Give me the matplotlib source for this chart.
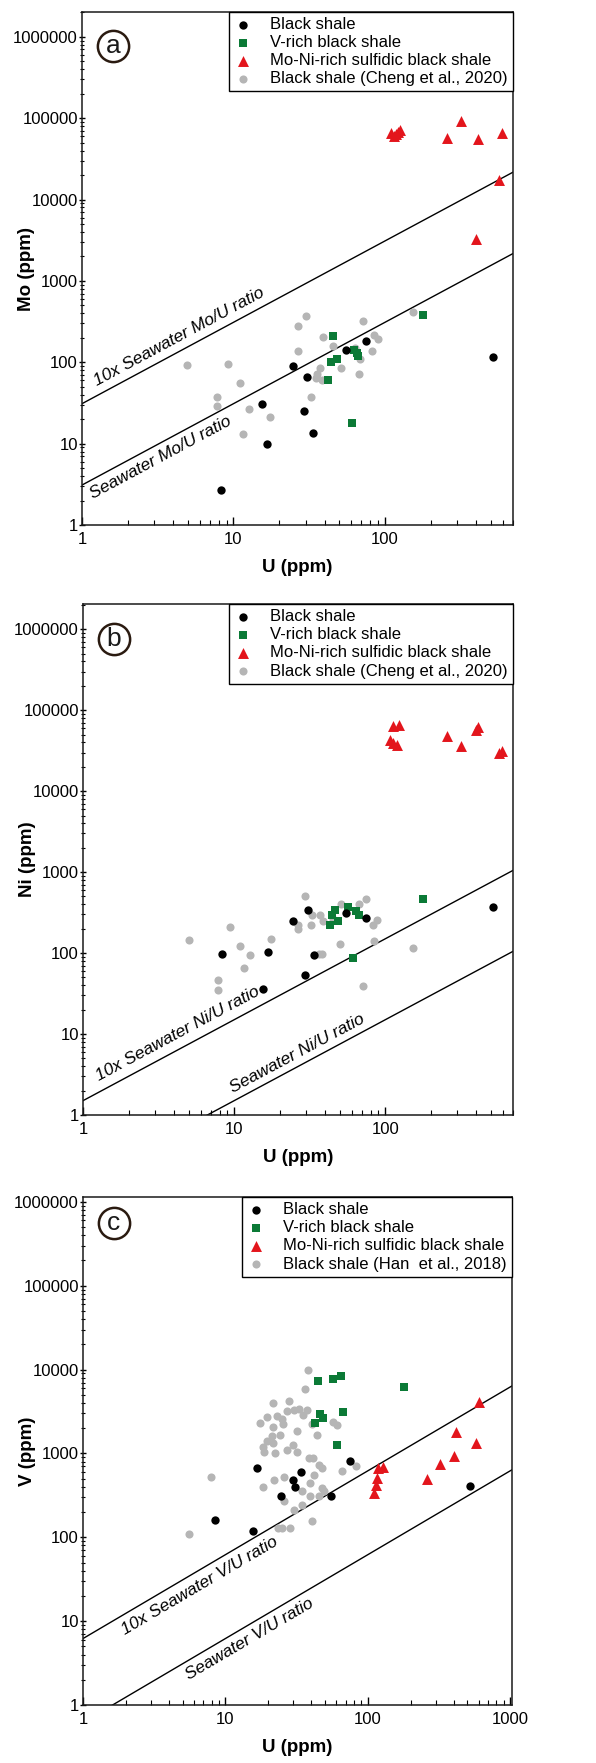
import numpy as np
import matplotlib
matplotlib.use('Agg')
from matplotlib import pyplot as plt
from matplotlib.ticker import FixedLocator, LogLocator, NullFormatter

plt.rcParams['font.family'] = ['Liberation Sans', 'DejaVu Sans']

# ---- panel a : Mo vs U ----
a_black_u = [8.25, 15.4, 16.6, 24.6, 29.2, 30.6, 33.5, 55.0, 74.6, 518]
a_black_mo = [2.67, 30.7, 9.95, 91, 24.9, 66, 13.5, 143, 181, 116]
a_green_u = [45.6, 44.0, 48.0, 42.3, 60.3, 62.5, 65.7, 66.7, 177]
a_green_mo = [213, 100, 110, 61, 17.9, 141, 130, 119, 379]
a_red_u = [110, 115, 119, 126, 122, 255, 318, 409, 594, 566, 397]
a_red_mo = [66000, 60000, 64000, 72000, 68000, 56600, 92500, 55600, 65000, 17500, 3320]
a_gray_u = [4.95, 9.2, 11.0, 7.8, 7.8, 12.7, 17.4, 11.6, 30.0, 26.6, 26.6, 32.7, 38.9, 45.1,
            37.4, 35.8, 35.0, 38.2, 51.3, 71.3, 85.1, 90, 82.2, 67, 68.3, 63.8, 152]
a_gray_mo = [92, 95, 55, 37, 29, 27, 21, 13, 369, 278, 139, 37, 203, 160,
             85, 72, 64, 60, 84, 326, 219, 196, 139, 72, 110, 150, 417]

# ---- panel b : Ni vs U ----
b_black_u = [8.31, 15.4, 16.7, 24.5, 29.3, 30.6, 33.6, 55.0, 74.5, 515]
b_black_ni = [97, 36.4, 104, 252, 53.3, 342, 94.4, 311, 272, 369]
b_green_u = [42.8, 44.4, 46.2, 48.4, 56.6, 64.3, 66.6, 60.8, 177]
b_green_ni = [219, 299, 336, 247, 369, 329, 297, 85.9, 460]
b_red_u = [108, 113, 124, 113, 119, 256, 318, 400, 410, 569, 593]
b_red_ni = [43100, 63000, 64800, 39300, 37500, 48400, 36400, 57000, 62000, 29600, 30900]
b_gray_u = [5.0, 9.34, 11.0, 11.7, 12.7, 17.5, 7.78, 7.78, 29.6, 26.5, 26.3, 32.7, 32.3, 37.1,
            38.7, 38.1, 36.3, 50.4, 50.9, 66.6, 74.9, 82.8, 88.1, 84.6, 71.1, 152, 45]
b_gray_ni = [145, 208, 123, 64.5, 94, 149, 46, 35, 506, 221, 200, 297, 225, 291,
             252, 97, 97, 129, 406, 406, 460, 223, 259, 142, 39, 117, 260]

# ---- panel c : V vs U ----
c_black_u = [8.4, 15.6, 16.7, 24.7, 29.7, 30.8, 33.9, 55.4, 75.4, 524]
c_black_v = [160, 118, 665, 313, 484, 403, 596, 307, 820, 410]
c_green_u = [44.9, 57.3, 64.5, 179.6, 66.6, 46.2, 48.3, 42.6, 61]
c_green_v = [7270, 7620, 8340, 6220, 3080, 2920, 2640, 2275, 1256]
c_red_u = [118, 128, 116, 114, 111, 260, 323, 405, 416, 575, 604]
c_red_v = [677, 697, 506, 422, 336, 497, 741, 940, 1810, 1315, 4120]
c_gray_u = [38.2, 36.4, 28.0, 21.5, 30.5, 33.0, 37.2, 34.9, 26.9, 19.5, 22.9, 17.5, 24.9, 21.7,
            25.5, 31.8, 24.2, 21.1, 19.5, 29.6, 21.7, 57.3, 61, 43.7, 40.3, 18.5,
            18.6, 22.4, 27, 32,
            5.52, 7.92, 18.4, 22.0, 25.6, 23.3, 24.9, 28.6, 25.9, 30.1, 34.7, 38.4, 41.5,
            45.1, 47.6, 41.6, 39.4, 34.5, 47.6, 49.1, 45.1, 39.4, 40.5, 65.8, 83]
c_gray_v = [10000, 5800, 4230, 3950, 3340, 3400, 3300, 2840, 3210, 2730, 2780, 2310, 2560, 2070,
            2250, 1830, 1670, 1620, 1390, 1270, 1320, 2400, 2190, 1670, 2250, 1200,
            1040, 1000, 1100, 1050,
            108, 530, 393, 484, 530, 129, 129, 129, 273, 213, 245, 873, 873,
            728, 665, 554, 442, 358, 385, 352, 307, 307, 155, 624, 715]

# seawater element/U ratios
mo_u_ratio = 3.1
ni_u_ratio = 0.15
v_u_ratio = 0.62

BLACK = '#000000'
GREEN = '#0b7a36'
RED = '#e3151c'
GRAY = '#b5b5b5'
EDGE = '#2a1a10'

fig = plt.figure(figsize=(5.96, 17.63), dpi=100)


def draw_panel(rect, letter, letter_y, el, ratio, xmax, ymax, xticks,
               black, green, red, gray, ref_label, txt10, txt1):
    ax = fig.add_axes(rect)
    ax.set_xscale('log')
    ax.set_yscale('log')
    ax.set_xlim(1, xmax)
    ax.set_ylim(1, ymax)

    g = ax.scatter(gray[0], gray[1], s=34, c=GRAY, linewidths=0, zorder=2)
    gr = ax.scatter(green[0], green[1], s=29, marker='s', c=GREEN, linewidths=0, zorder=3)
    b = ax.scatter(black[0], black[1], s=36, c=BLACK, linewidths=0, zorder=4)
    r = ax.scatter(red[0], red[1], s=62, marker='^', c=RED, linewidths=0, zorder=5)

    xs = np.array([1, xmax])
    ax.plot(xs, ratio * xs, color='k', lw=1.0, zorder=1)
    ax.plot(xs, 10 * ratio * xs, color='k', lw=1.0, zorder=1)

    p1 = ax.transData.transform((1, ratio))
    p2 = ax.transData.transform((100, ratio * 100))
    ang = np.degrees(np.arctan2(p2[1] - p1[1], p2[0] - p1[0]))
    ax.text(txt10[0], txt10[1], '10x Seawater %s/U ratio' % el, rotation=ang,
            rotation_mode='anchor', ha='left', va='baseline', fontsize=12.5, style='italic')
    ax.text(txt1[0], txt1[1], 'Seawater %s/U ratio' % el, rotation=ang,
            rotation_mode='anchor', ha='left', va='baseline', fontsize=12.5, style='italic')

    leg = ax.legend([b, gr, r, g], ['Black shale', 'V-rich black shale',
                                    'Mo-Ni-rich sulfidic black shale', ref_label],
                    loc='upper right', borderaxespad=0, fontsize=12, frameon=True,
                    fancybox=False, edgecolor='k', framealpha=1, scatterpoints=1,
                    handlelength=1.08, handletextpad=1.1, borderpad=0.3, labelspacing=0.19)
    leg.get_frame().set_linewidth(1.0)

    ax.plot(0.072, letter_y, 'o', ms=22.5, mfc='white', mec=EDGE, mew=1.8,
            transform=ax.transAxes, clip_on=False, zorder=6)
    ax.text(0.072, letter_y, letter, transform=ax.transAxes, ha='center', va='center',
            fontsize=19, color='#1a1a1a', zorder=7)

    yt = [1, 10, 100, 1000, 10000, 100000, 1000000]
    ax.yaxis.set_major_locator(FixedLocator(yt))
    ax.set_yticklabels([str(v) for v in yt])
    ax.xaxis.set_major_locator(FixedLocator(xticks))
    ax.set_xticklabels([str(v) for v in xticks])
    ax.xaxis.set_minor_locator(LogLocator(base=10, subs=np.arange(2, 10)))
    ax.yaxis.set_minor_locator(LogLocator(base=10, subs=np.arange(2, 10), numticks=20))
    ax.xaxis.set_minor_formatter(NullFormatter())
    ax.yaxis.set_minor_formatter(NullFormatter())
    ax.tick_params(axis='x', which='major', direction='in', length=6, width=1, pad=5, labelsize=12)
    ax.tick_params(axis='x', which='minor', direction='in', length=3.5, width=0.8)
    ax.tick_params(axis='y', which='major', direction='inout', length=5, width=1, pad=0.5, labelsize=12)
    ax.tick_params(axis='y', which='minor', direction='inout', length=3, width=0.8)
    for sp in ax.spines.values():
        sp.set_linewidth(1.1)
        sp.set_color('#1a1a1a')

    ax.set_xlabel('U (ppm)', fontsize=13.5, fontweight='bold')
    ax.set_ylabel('%s (ppm)' % el, fontsize=13.5, fontweight='bold')
    ax.xaxis.set_label_coords(0.5, -0.066)
    ax.yaxis.set_label_coords(-0.109, 0.5)
    return ax


draw_panel([0.1376, 0.7022, 0.7231, 0.2910], 'a', 0.934, 'Mo', mo_u_ratio, 700, 2.02e6,
           [1, 10, 100], (a_black_u, a_black_mo), (a_green_u, a_green_mo),
           (a_red_u, a_red_mo), (a_gray_u, a_gray_mo), 'Black shale (Cheng et al., 2020)',
           (1.26, 51.6), (1.18, 2.09))

draw_panel([0.1393, 0.3676, 0.7215, 0.2898], 'b', 0.931, 'Ni', ni_u_ratio, 700, 2.05e6,
           [1, 10, 100], (b_black_u, b_black_ni), (b_green_u, b_green_ni),
           (b_red_u, b_red_ni), (b_gray_u, b_gray_ni), 'Black shale (Cheng et al., 2020)',
           (1.27, 2.59), (9.77, 1.86))

draw_panel([0.1393, 0.0329, 0.7198, 0.2881], 'c', 0.948, 'V', v_u_ratio, 1030, 1.14e6,
           [1, 10, 100, 1000], (c_black_u, c_black_v), (c_green_u, c_green_v),
           (c_red_u, c_red_v), (c_gray_u, c_gray_v), 'Black shale (Han  et al., 2018)',
           (1.98, 6.75), (5.52, 1.98))

plt.savefig('out.png', dpi=100)
